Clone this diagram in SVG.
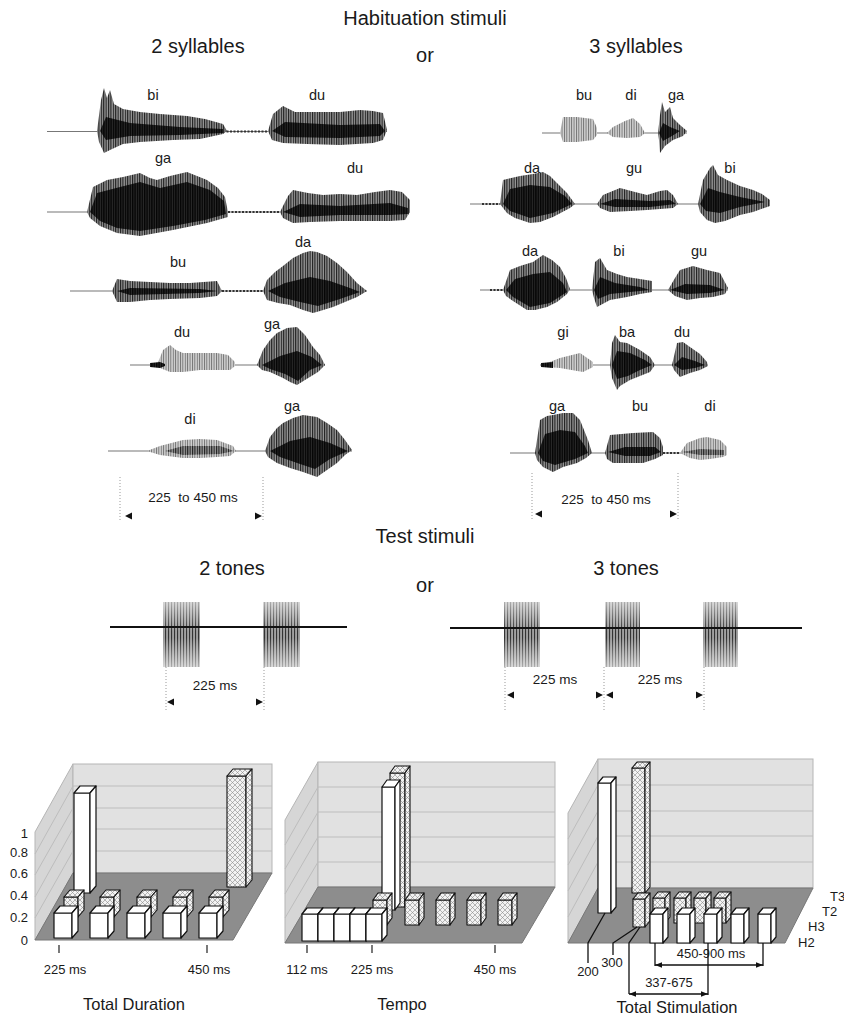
<svg xmlns="http://www.w3.org/2000/svg" width="844" height="1020" viewBox="0 0 844 1020">
<style>
.t{font-family:"Liberation Sans",Arial,sans-serif;fill:#1a1a1a}
.hd{font-size:20px;text-anchor:middle}
.syl{font-size:14.5px;text-anchor:middle}
.dim{font-size:13.5px;text-anchor:middle}
.ax{font-size:13px}
.axe{font-size:13px;text-anchor:end}
.axm{font-size:13px;text-anchor:middle}
.ttl{font-size:16.5px;text-anchor:middle}
.wv{fill:url(#wv)}
.wvl{fill:url(#wvl)}
.core{fill:url(#wvd)}
.base{stroke:#777;stroke-width:1.2;fill:none}
.trail{stroke:#333;stroke-width:2;stroke-dasharray:2 1.5;fill:none}
.dot{stroke:#999;stroke-width:1;stroke-dasharray:1 2;fill:none}
.ah{fill:#111}
.tone{fill:url(#tn)}
.fade{fill:url(#tg)}
.tline{stroke:#111;stroke-width:2}
.back{fill:#e1e1e1;stroke:#b5b5b5;stroke-width:1}
.side{fill:#d6d6d6;stroke:#b5b5b5;stroke-width:1}
.floor{fill:#8d8d8d;stroke:#777;stroke-width:1}
.grid{stroke:#bdbdbd;stroke-width:1;fill:none}
.wb{fill:#fff;stroke:#111;stroke-width:1.2;stroke-linejoin:round}
.hb{fill:url(#xh);stroke:#111;stroke-width:1.1;stroke-linejoin:round}
.tick{stroke:#222;stroke-width:1.2}
.lead{stroke:#111;stroke-width:1.3;fill:none}
.arr{stroke:#111;stroke-width:1.3;fill:none;marker-start:url(#am);marker-end:url(#am)}
</style>
<defs>
<pattern id="wv" width="2.4" height="8" patternUnits="userSpaceOnUse"><rect width="2.4" height="8" fill="#9a9a9a"/><rect width="1.1" height="8" fill="#1c1c1c"/></pattern>
<pattern id="wvl" width="2.4" height="8" patternUnits="userSpaceOnUse"><rect width="2.4" height="8" fill="#d2d2d2"/><rect width="0.9" height="8" fill="#6e6e6e"/></pattern>
<pattern id="wvd" width="2.4" height="8" patternUnits="userSpaceOnUse"><rect width="2.4" height="8" fill="#2a2a2a"/><rect width="1.4" height="8" fill="#050505"/></pattern>
<pattern id="tn" width="3" height="10" patternUnits="userSpaceOnUse"><rect width="3" height="10" fill="#a0a0a0"/><rect width="1.1" height="10" fill="#333"/></pattern>
<linearGradient id="tg" x1="0" y1="0" x2="0" y2="1"><stop offset="0" stop-color="#fff" stop-opacity="0.6"/><stop offset="0.45" stop-color="#fff" stop-opacity="0"/><stop offset="0.55" stop-color="#fff" stop-opacity="0"/><stop offset="1" stop-color="#fff" stop-opacity="0.6"/></linearGradient>
<pattern id="xh" width="5" height="5" patternUnits="userSpaceOnUse"><rect width="5" height="5" fill="#f2f2f2"/><path d="M0,0L5,5M5,0L0,5" stroke="#8a8a8a" stroke-width="0.6"/></pattern>
<marker id="am" viewBox="0 0 10 10" refX="10" refY="5" markerWidth="9" markerHeight="7" markerUnits="userSpaceOnUse" orient="auto-start-reverse"><path d="M0,1L10,5L0,9Z" fill="#111"/></marker>
</defs>
<rect width="844" height="1020" fill="#fff"/>

<g id="titles">
<text class="t hd" x="425" y="25">Habituation stimuli</text>
<text class="t hd" x="425" y="62">or</text>
<text class="t hd" x="198" y="53">2 syllables</text>
<text class="t hd" x="636" y="53">3 syllables</text>
<text class="t hd" x="425" y="543">Test stimuli</text>
<text class="t hd" x="232" y="575">2 tones</text>
<text class="t hd" x="425" y="592">or</text>
<text class="t hd" x="626" y="575">3 tones</text>
</g>

<g id="habituation-2">
<line class="base" x1="47" y1="131.5" x2="387" y2="131.5"/>
<line class="trail" x1="223" y1="131.5" x2="268" y2="131.5"/>
<path class="wv" d="M97,131 L101,100 L104,88 L107,98 L110,90 L114,104 L123,109 L140,112 L160,114 L187,116 L205,119 L223,124 L227,131 L223,134 L200,139 L173,140 L140,142 L123,144 L110,150 L104,153 L99,142 Z"/>
<path class="core" d="M100,131 L106,117 L130,123 L180,127 L223,129 L223,133 L180,135 L130,136 L106,140 Z"/>
<path class="wv" d="M268,131 L273,114 L283,106 L295,112 L307,112 L340,112 L360,110 L373,111 L383,113 L387,130 L383,140 L373,143 L340,145 L307,144 L283,143 L272,140 Z"/>
<path class="core" d="M272,131 L285,122 L340,125 L380,124 L385,131 L380,136 L340,138 L285,137 Z"/>
<text class="t syl" x="153" y="100">bi</text>
<text class="t syl" x="317" y="100">du</text>

<line class="base" x1="47" y1="212" x2="410" y2="212"/>
<line class="trail" x1="228" y1="212" x2="280" y2="212"/>
<path class="wv" d="M87,212 L93,187 L107,180 L123,177 L140,173 L150,178 L157,180 L170,176 L187,172 L197,176 L207,180 L218,188 L225,197 L228,212 L228,217 L207,223 L173,230 L140,236 L117,233 L100,226 L90,218 Z"/>
<path class="core" d="M90,212 L97,193 L120,187 L140,182 L160,188 L187,182 L210,190 L224,201 L226,214 L205,220 L173,226 L140,231 L117,228 L100,221 Z"/>
<path class="wv" d="M280,212 L288,196 L293,190 L308,193 L323,195 L340,194 L357,195 L375,192 L390,190 L402,192 L410,200 L410,212 L405,220 L390,221 L357,221 L340,221 L310,222 L293,223 L283,218 Z"/>
<path class="core" d="M283,212 L300,204 L340,206 L390,203 L408,208 L408,214 L390,215 L340,215 L300,217 Z"/>
<text class="t syl" x="163" y="163">ga</text>
<text class="t syl" x="355" y="173">du</text>

<line class="base" x1="70" y1="291" x2="367" y2="291"/>
<line class="trail" x1="222" y1="291" x2="263" y2="291"/>
<path class="wv" d="M112,291 L117,279 L130,281 L150,282 L170,283 L190,283 L217,281 L222,291 L217,296 L200,298 L170,299 L150,300 L130,302 L117,302 Z"/>
<path class="core" d="M117,291 L130,288 L200,289 L218,291 L200,293 L130,295 Z"/>
<path class="wv" d="M263,291 L267,280 L275,272 L283,266 L293,258 L303,253 L310,251 L317,252 L327,256 L337,263 L347,272 L357,283 L367,291 L357,297 L345,302 L333,307 L320,311 L313,313 L303,310 L290,305 L278,303 L267,300 Z"/>
<path class="core" d="M268,291 L285,283 L310,277 L330,281 L350,288 L360,292 L340,299 L318,306 L300,302 L280,297 Z"/>
<text class="t syl" x="178" y="267">bu</text>
<text class="t syl" x="303" y="247">da</text>

<line class="base" x1="130" y1="365" x2="325" y2="365"/>
<path class="wvl" d="M157,365 L163,350 L170,345 L176,350 L183,353 L200,353 L217,353 L228,355 L235,362 L235,366 L230,370 L200,370 L183,372 L170,372 L160,368 Z"/>
<path class="core" d="M150,363 L160,362 L165,364 L165,366 L160,368 L150,367 Z"/>
<path class="wv" d="M257,365 L263,350 L270,340 L277,333 L287,328 L297,327 L305,335 L313,347 L320,355 L325,365 L318,372 L305,380 L297,385 L290,382 L283,378 L270,372 L262,370 Z"/>
<path class="core" d="M262,365 L280,356 L297,351 L312,357 L322,365 L310,370 L298,381 L285,374 L270,369 Z"/>
<text class="t syl" x="182" y="337">du</text>
<text class="t syl" x="272" y="329">ga</text>

<line class="base" x1="108" y1="451" x2="352" y2="451"/>
<path class="wvl" d="M147,451 L160,446 L183,440 L200,439 L217,440 L233,446 L236,451 L230,456 L217,457 L200,458 L183,458 L160,455 Z"/>
<path class="wv" d="M165,451 L183,446 L220,446 L234,451 L220,454 L183,455 Z"/>
<path class="wv" d="M265,451 L270,437 L277,428 L283,423 L293,418 L303,415 L317,417 L327,423 L337,430 L345,440 L352,450 L345,455 L337,463 L327,470 L317,477 L303,472 L290,468 L277,463 L268,457 Z"/>
<path class="core" d="M270,451 L290,441 L310,437 L330,443 L348,451 L330,459 L315,469 L300,464 L280,457 Z"/>
<text class="t syl" x="190" y="424">di</text>
<text class="t syl" x="292" y="411">ga</text>

<text class="t dim" x="193" y="502" xml:space="preserve">225  to 450 ms</text>
</g>

<g id="habituation-3">
<line class="base" x1="542" y1="133" x2="687" y2="133"/>
<path class="wvl" d="M560,133 L563,117 L577,117 L593,119 L597,128 L597,135 L593,140 L577,142 L563,142 Z"/>
<path class="wvl" d="M607,133 L613,127 L625,121 L633,118 L640,124 L645,133 L640,137 L627,138 L613,137 Z"/>
<path class="wv" d="M658,133 L660,115 L662,102 L665,112 L670,107 L673,118 L680,125 L687,131 L683,136 L673,140 L665,146 L660,153 L659,140 Z"/>
<path class="core" d="M659,133 L663,123 L670,127 L680,131 L672,136 L663,141 Z"/>
<text class="t syl" x="584" y="100">bu</text>
<text class="t syl" x="631" y="100">di</text>
<text class="t syl" x="676" y="100">ga</text>

<line class="base" x1="470" y1="204" x2="770" y2="204"/>
<line class="trail" x1="482" y1="204" x2="500" y2="204"/>
<path class="wv" d="M500,204 L503,180 L520,176 L533,174 L543,172 L550,176 L557,183 L567,193 L575,204 L570,208 L553,217 L540,222 L530,223 L515,218 L507,213 Z"/>
<path class="core" d="M503,204 L510,189 L530,185 L550,187 L565,196 L572,204 L553,213 L530,218 L510,211 Z"/>
<path class="wv" d="M597,204 L603,195 L620,188 L635,192 L647,195 L660,191 L667,190 L673,195 L678,204 L673,208 L647,210 L630,211 L610,212 L600,208 Z"/>
<path class="core" d="M600,204 L615,199 L650,201 L670,200 L676,204 L650,207 L615,207 Z"/>
<path class="wv" d="M698,204 L703,180 L710,168 L713,165 L718,175 L727,180 L740,186 L753,190 L762,194 L770,200 L770,206 L753,212 L740,215 L725,221 L715,223 L707,220 L700,212 Z"/>
<path class="core" d="M700,204 L708,188 L720,192 L740,197 L765,202 L740,207 L720,213 L706,211 Z"/>
<text class="t syl" x="532" y="173">da</text>
<text class="t syl" x="634" y="173">gu</text>
<text class="t syl" x="730" y="173">bi</text>

<line class="base" x1="480" y1="290" x2="728" y2="290"/>
<line class="trail" x1="490" y1="290" x2="503" y2="290"/>
<path class="wv" d="M503,290 L510,270 L520,266 L533,262 L543,255 L552,260 L560,267 L566,278 L570,289 L567,294 L557,302 L547,307 L535,310 L527,310 L513,301 L506,296 Z"/>
<path class="core" d="M506,290 L515,279 L533,274 L550,272 L563,283 L567,292 L550,303 L530,307 L513,297 Z"/>
<path class="wv" d="M592,290 L595,262 L600,258 L607,270 L617,274 L627,277 L640,279 L652,281 L652,292 L640,294 L627,297 L610,300 L597,307 L594,298 Z"/>
<path class="core" d="M594,290 L600,277 L615,283 L640,287 L650,290 L630,292 L610,294 L598,299 Z"/>
<path class="wv" d="M668,290 L675,278 L680,270 L693,266 L707,270 L720,273 L728,288 L725,294 L713,297 L700,298 L687,300 L675,296 Z"/>
<path class="core" d="M670,290 L685,284 L710,285 L725,290 L710,293 L687,294 Z"/>
<text class="t syl" x="530" y="256">da</text>
<text class="t syl" x="619" y="256">bi</text>
<text class="t syl" x="699" y="256">gu</text>

<line class="base" x1="540" y1="365" x2="708" y2="365"/>
<path class="wvl" d="M543,365 L547,363 L560,358 L580,353 L593,362 L593,367 L583,372 L560,368 L547,367 Z"/>
<path class="core" d="M541,363 L553,362 L553,368 L541,367 Z"/>
<path class="wv" d="M610,365 L612,343 L615,335 L620,342 L627,343 L640,350 L650,357 L655,365 L650,372 L640,376 L630,380 L620,386 L617,390 L612,378 Z"/>
<path class="core" d="M612,365 L617,351 L630,353 L645,360 L652,365 L640,370 L628,376 L617,379 Z"/>
<path class="wv" d="M672,365 L677,343 L683,342 L690,347 L700,354 L707,362 L708,366 L700,370 L690,373 L680,377 L674,370 Z"/>
<path class="core" d="M674,365 L682,357 L695,361 L705,365 L695,368 L682,370 Z"/>
<text class="t syl" x="563" y="337">gi</text>
<text class="t syl" x="627" y="337">ba</text>
<text class="t syl" x="682" y="337">du</text>

<line class="base" x1="510" y1="453" x2="727" y2="453"/>
<line class="trail" x1="663" y1="453" x2="680" y2="453"/>
<path class="wv" d="M535,453 L540,420 L547,416 L553,415 L563,413 L573,413 L580,420 L588,440 L592,453 L586,458 L577,463 L563,467 L553,472 L543,467 L537,460 Z"/>
<path class="core" d="M538,453 L545,434 L560,430 L575,432 L585,446 L588,453 L575,459 L555,465 L543,461 Z"/>
<path class="wv" d="M605,453 L610,435 L633,433 L653,432 L660,438 L663,447 L663,455 L655,459 L643,463 L625,463 L613,463 L607,459 Z"/>
<path class="core" d="M608,452 L625,447 L655,447 L661,452 L650,456 L625,456 Z"/>
<path class="wvl" d="M680,453 L687,443 L700,438 L707,437 L720,440 L727,447 L727,455 L723,457 L710,459 L700,460 L690,458 Z"/>
<path class="wv" d="M682,452 L700,449 L724,450 L724,455 L700,455 Z"/>
<text class="t syl" x="557" y="411">ga</text>
<text class="t syl" x="640" y="411">bu</text>
<text class="t syl" x="710" y="411">di</text>

<text class="t dim" x="606" y="504" xml:space="preserve">225  to 450 ms</text>
</g>

<g id="test-2-tones">
<rect class="tone" x="163" y="602" width="37" height="65"/>
<rect class="fade" x="163" y="602" width="37" height="65"/>
<rect class="tone" x="263" y="602" width="37" height="65"/>
<rect class="fade" x="263" y="602" width="37" height="65"/>
<line class="tline" x1="110" y1="627" x2="347" y2="627"/>
<text class="t dim" x="215" y="690">225 ms</text>
</g>

<g id="test-3-tones">
<rect class="tone" x="504" y="602" width="36" height="65"/>
<rect class="fade" x="504" y="602" width="36" height="65"/>
<rect class="tone" x="605" y="602" width="35" height="65"/>
<rect class="fade" x="605" y="602" width="35" height="65"/>
<rect class="tone" x="703" y="602" width="35" height="65"/>
<rect class="fade" x="703" y="602" width="35" height="65"/>
<line class="tline" x1="450" y1="628" x2="802" y2="628"/>
<text class="t dim" x="555" y="684">225 ms</text>
<text class="t dim" x="660" y="684">225 ms</text>
</g>

<g id="chart-total-duration">
<polygon class="side" points="73,764 73,873 35,940 35,832"/>
<rect class="back" x="73" y="764" width="199" height="109"/>
<polygon class="floor" points="73,873 272,873 233,940 35,940"/>
<path class="grid" d="M73,786H272M73,808H272M73,829H272M73,851H272M73,851L35,918M73,829L35,897M73,808L35,875M73,786L35,854"/>
<rect class="hb" x="227" y="776" width="19" height="111"/><polygon class="hb" points="227,776 233,769 252,769 246,776"/><polygon class="hb" points="246,776 252,769 252,880 246,887"/>
<rect class="wb" x="74" y="793" width="16" height="100"/><polygon class="wb" points="74,793 80,786 96,786 90,793"/><polygon class="wb" points="90,793 96,786 96,886 90,893"/>
<rect class="hb" x="64" y="897" width="14" height="20"/><polygon class="hb" points="64,897 70,890 84,890 78,897"/><polygon class="hb" points="78,897 84,890 84,910 78,917"/>
<rect class="hb" x="100" y="897" width="14" height="20"/><polygon class="hb" points="100,897 106,890 120,890 114,897"/><polygon class="hb" points="114,897 120,890 120,910 114,917"/>
<rect class="hb" x="137" y="897" width="14" height="20"/><polygon class="hb" points="137,897 143,890 157,890 151,897"/><polygon class="hb" points="151,897 157,890 157,910 151,917"/>
<rect class="hb" x="173" y="897" width="14" height="20"/><polygon class="hb" points="173,897 179,890 193,890 187,897"/><polygon class="hb" points="187,897 193,890 193,910 187,917"/>
<rect class="hb" x="209" y="897" width="14" height="20"/><polygon class="hb" points="209,897 215,890 229,890 223,897"/><polygon class="hb" points="223,897 229,890 229,910 223,917"/>
<rect class="wb" x="54" y="913" width="18" height="25"/><polygon class="wb" points="54,913 60,906 78,906 72,913"/><polygon class="wb" points="72,913 78,906 78,931 72,938"/>
<rect class="wb" x="90" y="913" width="18" height="25"/><polygon class="wb" points="90,913 96,906 114,906 108,913"/><polygon class="wb" points="108,913 114,906 114,931 108,938"/>
<rect class="wb" x="127" y="913" width="18" height="25"/><polygon class="wb" points="127,913 133,906 151,906 145,913"/><polygon class="wb" points="145,913 151,906 151,931 145,938"/>
<rect class="wb" x="163" y="913" width="18" height="25"/><polygon class="wb" points="163,913 169,906 187,906 181,913"/><polygon class="wb" points="181,913 187,906 187,931 181,938"/>
<rect class="wb" x="199" y="913" width="18" height="25"/><polygon class="wb" points="199,913 205,906 223,906 217,913"/><polygon class="wb" points="217,913 223,906 223,931 217,938"/>
<text class="t axe" x="28" y="838">1</text>
<text class="t axe" x="28" y="857">0.8</text>
<text class="t axe" x="28" y="878">0.6</text>
<text class="t axe" x="28" y="900">0.4</text>
<text class="t axe" x="28" y="922">0.2</text>
<text class="t axe" x="28" y="945">0</text>
<path class="tick" d="M59,945V953M207,945V953"/>
<text class="t axm" x="65" y="974">225 ms</text>
<text class="t axm" x="209" y="974">450 ms</text>
<text class="t ttl" x="134" y="1010">Total Duration</text>
</g>

<g id="chart-tempo">
<polygon class="side" points="318,762 318,887 285,943 285,820"/>
<rect class="back" x="318" y="762" width="237" height="125"/>
<polygon class="floor" points="318,887 555,887 522,943 285,943"/>
<path class="grid" d="M318,787H555M318,812H555M318,837H555M318,862H555M318,862L285,918M318,837L285,894M318,812L285,869M318,787L285,845"/>
<rect class="hb" x="390" y="773" width="15" height="134"/><polygon class="hb" points="390,773 395,766 410,766 405,773"/><polygon class="hb" points="405,773 410,766 410,900 405,907"/>
<rect class="wb" x="382" y="787" width="13" height="123"/><polygon class="wb" points="382,787 387,780 400,780 395,787"/><polygon class="wb" points="395,787 400,780 400,903 395,910"/>
<rect class="hb" x="373" y="900" width="14" height="25"/><polygon class="hb" points="373,900 378,893 392,893 387,900"/><polygon class="hb" points="387,900 392,893 392,918 387,925"/>
<rect class="hb" x="405" y="900" width="14" height="25"/><polygon class="hb" points="405,900 410,893 424,893 419,900"/><polygon class="hb" points="419,900 424,893 424,918 419,925"/>
<rect class="hb" x="436" y="900" width="14" height="25"/><polygon class="hb" points="436,900 441,893 455,893 450,900"/><polygon class="hb" points="450,900 455,893 455,918 450,925"/>
<rect class="hb" x="467" y="900" width="14" height="25"/><polygon class="hb" points="467,900 472,893 486,893 481,900"/><polygon class="hb" points="481,900 486,893 486,918 481,925"/>
<rect class="hb" x="498" y="900" width="14" height="25"/><polygon class="hb" points="498,900 503,893 517,893 512,900"/><polygon class="hb" points="512,900 517,893 517,918 512,925"/>
<rect class="wb" x="302" y="914" width="16" height="27"/><polygon class="wb" points="302,914 307,908 323,908 318,914"/><polygon class="wb" points="318,914 323,908 323,935 318,941"/>
<rect class="wb" x="318" y="914" width="16" height="27"/><polygon class="wb" points="318,914 323,908 339,908 334,914"/><polygon class="wb" points="334,914 339,908 339,935 334,941"/>
<rect class="wb" x="334" y="914" width="16" height="27"/><polygon class="wb" points="334,914 339,908 355,908 350,914"/><polygon class="wb" points="350,914 355,908 355,935 350,941"/>
<rect class="wb" x="350" y="914" width="16" height="27"/><polygon class="wb" points="350,914 355,908 371,908 366,914"/><polygon class="wb" points="366,914 371,908 371,935 366,941"/>
<rect class="wb" x="366" y="914" width="16" height="27"/><polygon class="wb" points="366,914 371,908 387,908 382,914"/><polygon class="wb" points="382,914 387,908 387,935 382,941"/>
<path class="tick" d="M307,945V953M372,945V953M495,945V953"/>
<text class="t axm" x="307" y="974">112 ms</text>
<text class="t axm" x="372" y="974">225 ms</text>
<text class="t axm" x="495" y="974">450 ms</text>
<text class="t ttl" x="402" y="1010">Tempo</text>
</g>

<g id="chart-total-stimulation">
<polygon class="side" points="598,759 598,888 568,943 568,813"/>
<rect class="back" x="598" y="759" width="215" height="129"/>
<polygon class="floor" points="598,888 813,888 785,943 568,943"/>
<path class="grid" d="M598,785H813M598,811H813M598,836H813M598,862H813M598,862L568,917M598,836L568,891M598,811L568,865M598,785L568,839"/>
<rect class="wb" x="598" y="783" width="13" height="130"/><polygon class="wb" points="598,783 603,777 616,777 611,783"/><polygon class="wb" points="611,783 616,777 616,907 611,913"/>
<rect class="hb" x="632" y="768" width="13" height="125"/><polygon class="hb" points="632,768 637,762 650,762 645,768"/><polygon class="hb" points="645,768 650,762 650,887 645,893"/>
<rect class="hb" x="653" y="898" width="12" height="25"/><polygon class="hb" points="653,898 658,892 670,892 665,898"/><polygon class="hb" points="665,898 670,892 670,917 665,923"/>
<rect class="hb" x="674" y="898" width="12" height="25"/><polygon class="hb" points="674,898 679,892 691,892 686,898"/><polygon class="hb" points="686,898 691,892 691,917 686,923"/>
<rect class="hb" x="694" y="898" width="12" height="25"/><polygon class="hb" points="694,898 699,892 711,892 706,898"/><polygon class="hb" points="706,898 711,892 711,917 706,923"/>
<rect class="hb" x="714" y="898" width="12" height="25"/><polygon class="hb" points="714,898 719,892 731,892 726,898"/><polygon class="hb" points="726,898 731,892 731,917 726,923"/>
<rect class="hb" x="633" y="899" width="12" height="28"/><polygon class="hb" points="633,899 638,893 650,893 645,899"/><polygon class="hb" points="645,899 650,893 650,921 645,927"/>
<rect class="wb" x="650" y="914" width="13" height="29"/><polygon class="wb" points="650,914 655,908 668,908 663,914"/><polygon class="wb" points="663,914 668,908 668,937 663,943"/>
<rect class="wb" x="677" y="914" width="13" height="29"/><polygon class="wb" points="677,914 682,908 695,908 690,914"/><polygon class="wb" points="690,914 695,908 695,937 690,943"/>
<rect class="wb" x="704" y="914" width="13" height="29"/><polygon class="wb" points="704,914 709,908 722,908 717,914"/><polygon class="wb" points="717,914 722,908 722,937 717,943"/>
<rect class="wb" x="731" y="914" width="13" height="29"/><polygon class="wb" points="731,914 736,908 749,908 744,914"/><polygon class="wb" points="744,914 749,908 749,937 744,943"/>
<rect class="wb" x="758" y="914" width="13" height="29"/><polygon class="wb" points="758,914 763,908 776,908 771,914"/><polygon class="wb" points="771,914 776,908 776,937 771,943"/>
<text class="t ax" x="830" y="901">T3</text>
<text class="t ax" x="822" y="916">T2</text>
<text class="t ax" x="808" y="931">H3</text>
<text class="t ax" x="798" y="947">H2</text>
<text class="t axm" x="588" y="976">200</text>
<text class="t axm" x="612" y="967">300</text>
<text class="t axm" x="711" y="958">450-900 ms</text>
<text class="t axm" x="669" y="987">337-675</text>
<text class="t ttl" x="677" y="1013">Total Stimulation</text>
</g>

<g id="connectors">
<path class="dot" d="M120,477V522M263,477V522M532,473V520M678,473V520M166,667V710M264,667V710M505,667V710M604,667V710M704,667V710"/>
<polygon class="ah" points="125,516 132,512.5 132,519.5"/>
<polygon class="ah" points="262,516 255,512.5 255,519.5"/>
<polygon class="ah" points="535,514 542,510.5 542,517.5"/>
<polygon class="ah" points="677,514 670,510.5 670,517.5"/>
<polygon class="ah" points="167,702 174,698.5 174,705.5"/>
<polygon class="ah" points="263,702 256,698.5 256,705.5"/>
<polygon class="ah" points="507,695 514,691.5 514,698.5"/>
<polygon class="ah" points="603,695 596,691.5 596,698.5"/>
<polygon class="ah" points="606,695 613,691.5 613,698.5"/>
<polygon class="ah" points="703,695 696,691.5 696,698.5"/>
<polyline class="lead" points="605,913 588,943 588,963"/>
<polyline class="lead" points="637,927 613,943 613,955"/>
<polyline class="lead" points="640,927 629,943 629,994"/>
<path class="lead" d="M708,943V995M655,943V966M763,943V966"/>
<line class="arr" x1="629" y1="994" x2="708" y2="994"/>
<line class="arr" x1="655" y1="965" x2="763" y2="965"/>
</g>
</svg>
